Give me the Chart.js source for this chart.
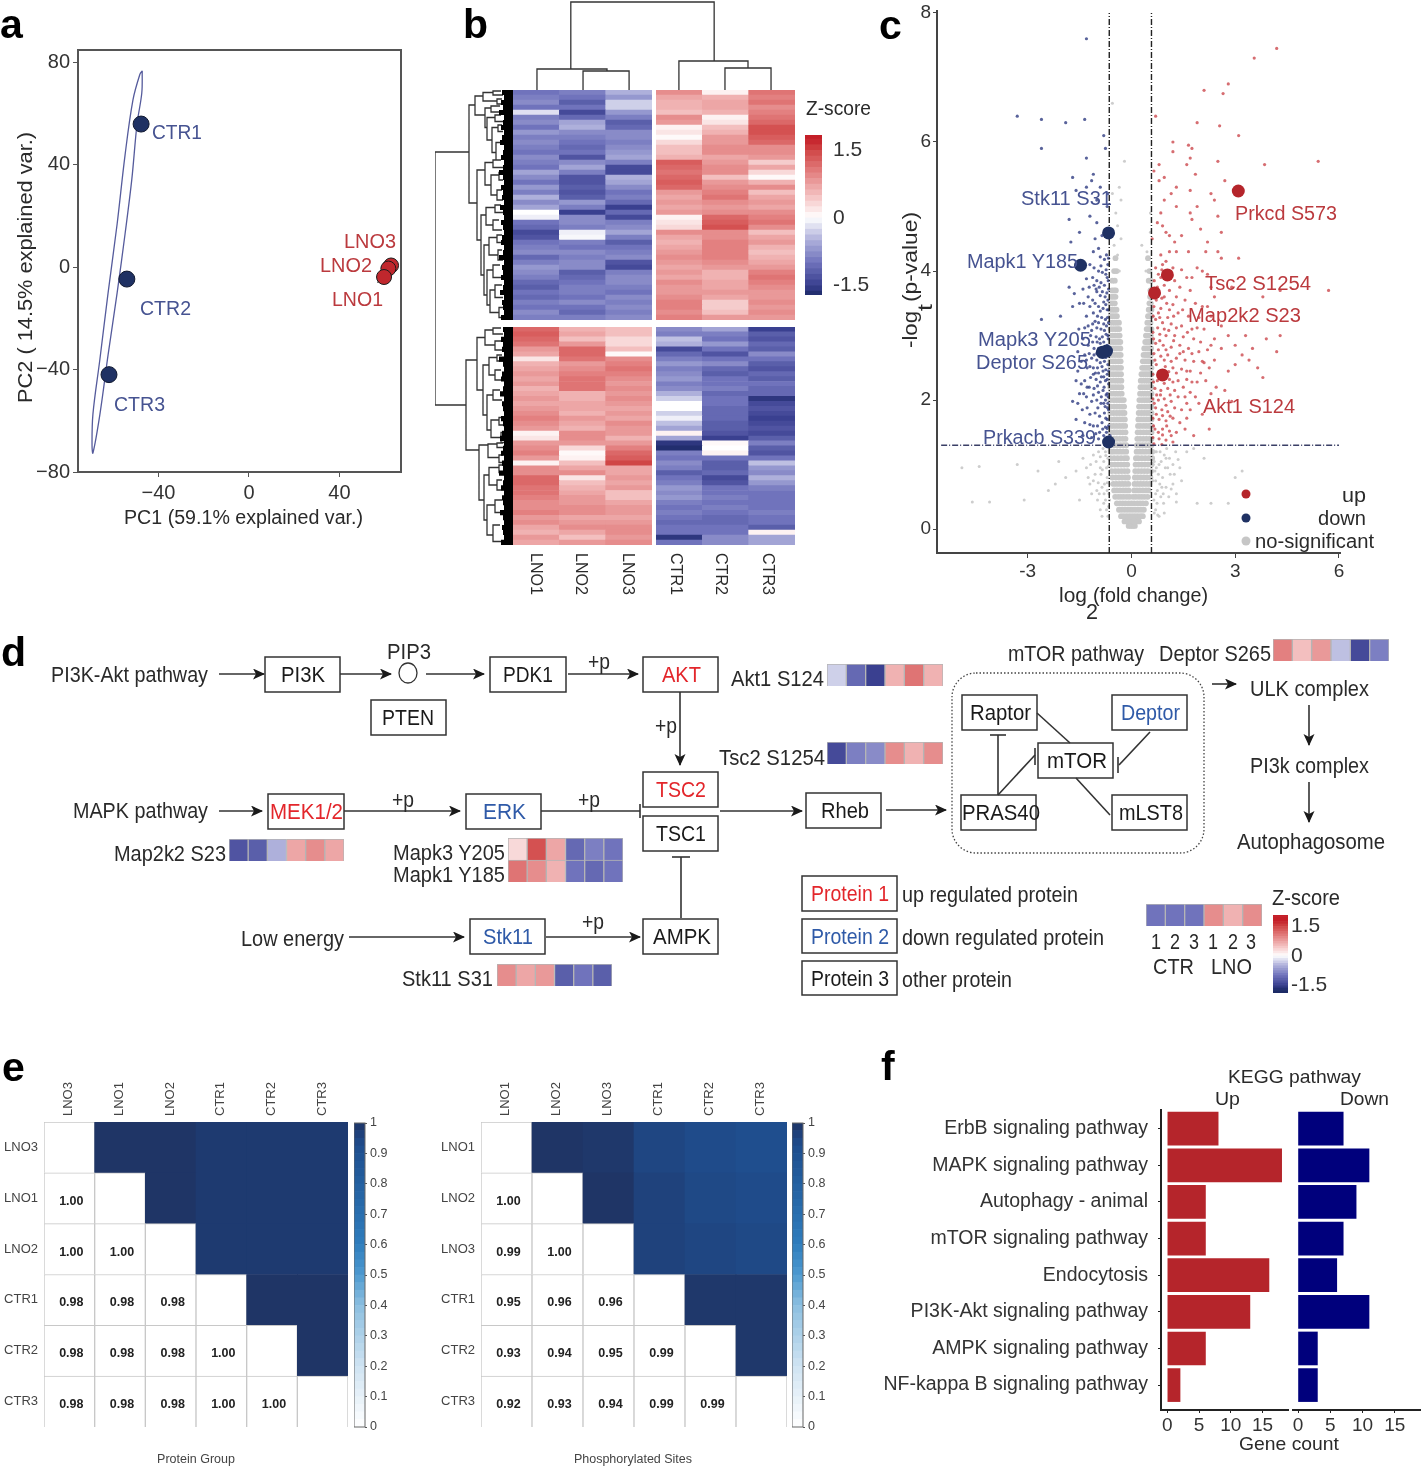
<!DOCTYPE html>
<html>
<head>
<meta charset="utf-8">
<title>Phosphoproteomics figure</title>
<script src="https://cdn.jsdelivr.net/npm/chart.js@4/dist/chart.umd.min.js"></script>
<style>
  html, body { margin: 0; background: #fff; }
  #page { position: relative; width: 1421px; height: 1482px; overflow: hidden; }
  #page canvas { position: absolute; }
  #overlay { position: absolute; left: 0; top: 0; }
  #overlay text { font-family: "Liberation Sans", Arial, sans-serif; }
</style>
</head>
<body>
<div id="page"></div>
<script>
// ---- panel a : PCA
const pcaCtr = [[-47.7, 55.8], [-54, -4.7], [-61.9, -42]];
const pcaLno = [[62.8, 0.6], [61.6, -0.6], [59.7, -3.9]];
const pcaCtrEllipse = [[-47.2, 76.6], [-47.4, 67.9], [-49.5, 55.8], [-51.8, 34.3], [-54.8, 12.9], [-58.3, -10.1], [-62.3, -34.3], [-65.9, -57.4], [-69, -72.6],
  [-69.4, -69.5], [-69, -57.4], [-65.9, -35.9], [-62.3, -10.1], [-58.3, 16.8], [-54.8, 43.7], [-51.3, 65.2], [-48.2, 75.3], [-47.2, 76.6]];
const pcaLnoEllipse = [[63.5, 2.4], [60, -1], [57.5, -5.5], [59, -5], [62.5, -1], [63.5, 2.4]];
const pcaXTicks = [-40, 0, 40];
const pcaYTicks = [-80, -40, 0, 40, 80];

// ---- panel b : heatmap, columns LNO1 LNO2 LNO3 CTR1 CTR2 CTR3
const heatColsLno = ['LNO1', 'LNO2', 'LNO3'];
const heatColsCtr = ['CTR1', 'CTR2', 'CTR3'];
const heatTop = [
  [-1, -.9, -.5, .9, .1, 1.1], [-.9, -1, -.7, .7, .6, 1], [-.8, -1.2, -.3, .6, .7, 1.1], [-1, -1, -.3, .6, .7, .9],
  [-.2, -1.4, -.7, .5, .6, 1], [-.9, -1.1, -.9, .9, .1, 1.1], [-.8, -.6, -1.2, .8, .2, 1.2], [-1, -.5, -1.1, .1, .5, 1.4],
  [-.7, -.8, -.8, .2, .6, 1.4], [-.9, -.9, -.8, .05, .8, 1.3], [-.8, -1, -.9, .3, .8, 1.2], [-.9, -1.1, -.8, .5, .9, .9],
  [-1, -1, -.7, .5, .9, .9], [-.8, -1.3, -.6, .6, .7, .8], [-.9, -.8, -.9, 1.3, .8, .4], [-1, -.6, -1.4, 1.2, .9, .7],
  [-.6, -.9, -1.4, 1.1, .9, .3], [-.8, -1.3, -.5, 1.2, .5, .05], [-1, -1.3, -.6, 1.3, .8, .6], [-.7, -1.2, -.8, 1.2, .9, .9],
  [-.9, -1.3, -1, .8, 1, .5], [-.5, -1.2, -.9, .7, 1.1, .7], [-.8, -.7, -1.1, .8, .9, .8], [-.6, -.9, -1.5, .7, .8, .7],
  [0, -1.5, -1.1, .8, .9, .9], [-.1, -.8, -1.4, .1, 1.2, 1], [-1, -.8, -.9, .2, 1.3, 1.1], [-1.1, -.9, -.8, .3, 1.4, .9],
  [-1.4, -.1, -.6, .9, .9, .5], [-1.3, -.05, -.9, .7, .9, .7], [-1, -.9, -1.2, .6, 1, .8], [-.9, -1, -1, .7, 1, .6],
  [-.8, -.8, -.9, .8, 1, .5], [-1.1, -.9, -.8, .9, 1, .6], [-.9, -.8, -1.3, .8, .9, .7], [-.7, -.8, -1.4, .7, .8, .8],
  [-.8, -1.2, -.9, .8, .6, 1], [-.9, -1.1, -.8, .7, .6, 1.1], [-1.1, -1, -.8, .9, .7, 1], [-1.2, -.9, -.9, .8, .7, .9],
  [-1, -.9, -1, .8, .8, .8], [-1.1, -1, -.8, .9, .7, .8], [-.9, -.8, -.9, 1, .4, .9], [-1, -1, -.8, 1, .4, .8],
  [-.8, -1.1, -.9, .9, .5, .9], [-.9, -.9, -.8, 1, .8, .8]
];
const heatBottom = [
  [1.2, .6, .5, -.8, -.6, -1.5], [1.3, .7, .5, -.9, -.9, -1.2], [1.2, .5, .3, -.4, -1, -1.3], [1.1, .8, .3, -.5, -.7, -1.1],
  [.8, 1.2, .5, -1.4, -1, -1.2], [.7, 1.2, .05, -1.1, -1.3, -.8], [.2, 1.1, .9, -.9, -1, -1], [.6, .8, 1, -.7, -.8, -1.2],
  [.7, .9, 1.1, -.9, -1.1, -1.3], [.8, 1, 1, -.8, -1.2, -1.1], [.7, 1.1, .9, -.7, -1, -1.2], [.8, 1.1, .8, -.9, -1, -1],
  [.6, 1.1, .9, -.8, -.9, -1.1], [.7, .6, .8, -.5, -1.1, -1.1], [.8, .6, .9, -.3, -1, -1.6], [.7, .7, .8, 0, -1, -1.4],
  [.8, .7, .7, 0, -1.1, -1.3], [.9, .6, .8, -.3, -1.1, -1.4], [1, .8, .7, -.1, -1.1, -1.5], [.9, .7, .9, -.4, -1.2, -1.4],
  [.8, .6, .8, -.6, -1.2, -1.3], [.1, .9, .8, .1, -1.3, -1.4], [.2, .9, .6, -.6, -1.5, -1.2], [.8, .8, .8, -1.6, .05, -.9],
  [.9, .3, 1, -1.7, 0, -1.2], [1, .05, 1.2, -.9, .1, -1.3], [.8, .1, 1.3, -1, -1, -1], [.1, .5, 1.5, -.8, -1.2, -.4],
  [.9, .7, .7, -.9, -1.2, -.7], [.9, .9, .7, -1.2, -1.1, -.8], [1.2, .2, .8, -1, -1.4, -.5], [1.2, .5, .7, -.9, -1.3, -.7],
  [1.1, .6, .8, -.7, -1, -.9], [1.1, .7, .5, -.8, -1, -1], [1, .8, .5, -.7, -.9, -1], [.9, .8, .7, -.9, -1, -1],
  [.9, .9, .8, -1, -.9, -1], [1, .9, .8, -.9, -1, -.9], [.8, .7, .7, -1, -1.1, -1], [.9, .8, .8, -1.1, -1.1, -1],
  [.7, .9, .9, -1, -1, -1.2], [.6, .7, .9, -1, -1, .1], [.8, .5, .8, -1.6, -.8, -.6], [.7, .8, .9, -1, -.8, -.6]
];
const zBands = [-2, -1.875, -1.75, -1.625, -1.5, -1.375, -1.25, -1.125, -1, -.875, -.75, -.625, -.5, -.375, -.25, -.125, 0,
  .125, .25, .375, .5, .625, .75, .875, 1, 1.125, 1.25, 1.375, 1.5, 1.625, 1.75, 1.875, 2, 2.125];
const zTicks = [-1.5, 0, 1.5];

// dendrogram brackets: [height, pos1, pos2, child height 1, child height 2]
const treeTop = [[88, 1.23, 4.28, 21, 29], [21, .51, 2, 0, 19], [19, 1.49, 2.47, 0, 0], [29, 3.53, 5, 0, 22], [22, 4.51, 5.49, 0, 0]];
const treeLeft = [
  [78, 12.4, 63, 44, 47],
  [44, 3, 22.6, 38, 36], [38, 1.2, 5, 30, 28], [30, .5, 2.2, 20, 16], [20, .2, 1, 12, 10], [16, 1.8, 2.8, 11, 10], [28, 3.6, 7.5, 22, 26],
  [22, 3.2, 4.4, 13, 11], [26, 5.5, 10, 18, 21], [18, 5, 6.3, 12, 10], [21, 7.5, 12.5, 15, 17], [15, 7, 8.3, 11, 10], [17, 10.5, 14, 13, 12],
  [36, 16, 30, 28, 32], [28, 14.5, 19, 20, 22], [20, 14, 15.5, 12, 10], [22, 17, 21, 14, 16], [14, 16.5, 18, 11, 10], [16, 20, 22, 11, 10],
  [32, 25, 37, 27, 29], [27, 23.5, 27, 18, 20], [18, 23, 24.5, 12, 10], [20, 26, 28, 14, 11], [29, 31, 41, 24, 26], [24, 29.5, 33, 16, 15],
  [16, 29, 30.5, 11, 10], [15, 32, 34, 11, 10], [26, 36, 43, 20, 23], [20, 35, 37.5, 13, 12], [23, 40, 44.5, 18, 14], [18, 39, 41.5, 11, 10], [14, 43.5, 45.5, 10, 9],
  [47, 54, 72, 36, 34], [36, 49.5, 60, 28, 30], [28, 48, 51, 20, 18], [20, 47.6, 48.8, 12, 10], [18, 50.2, 52, 11, 10], [30, 55, 65, 24, 26],
  [24, 53.5, 57, 16, 18], [16, 53, 54.2, 11, 10], [18, 56, 58, 12, 10], [26, 61, 68, 20, 22], [20, 60, 62, 13, 11], [22, 66, 69.5, 14, 12],
  [14, 65.5, 67, 10, 9], [12, 68.5, 70.5, 10, 9], [34, 71, 82, 25, 29], [25, 70.8, 73.5, 16, 14], [16, 70.6, 71.5, 10, 9], [14, 73, 74.5, 10, 9],
  [29, 77, 86, 24, 26], [24, 75.5, 79, 14, 16], [14, 75, 76.5, 10, 9], [16, 78, 80, 11, 9], [26, 83, 89, 18, 20], [18, 82, 84.5, 11, 10], [20, 87, 90.3, 13, 12]
];
const leafDepth = [11, 9, 12, 10, 14, 9, 10, 12, 9, 11, 13, 9, 10, 12, 9, 10, 14, 10, 9, 12, 10, 11, 9, 13, 10, 9, 12, 10, 9, 11, 12, 9, 10, 14, 9, 11, 10, 12, 9, 10, 13, 9, 11, 10, 9, 12,
  10, 9, 12, 10, 11, 9, 14, 10, 9, 11, 12, 9, 10, 13, 9, 11, 10, 9, 12, 10, 9, 11, 13, 9, 10, 12, 9, 11, 10, 14, 9, 10, 12, 9, 11, 10, 9, 13, 10, 9, 11, 10, 9, 12];

// ---- panel c : volcano
const volcanoXTicks = [-3, 0, 3, 6];
const volcanoYTicks = [0, 2, 4, 6, 8];
const cutLogFc = [-0.64, 0.58];
const cutP = 1.3;
const hitsUp = [[3.09, 5.24], [1.04, 3.94], [.67, 3.66], [.9, 2.39]];
const hitsDown = [[-.66, 4.59], [-1.47, 4.09], [-.72, 2.76], [-.84, 2.74], [-.66, 1.35]];
// gray core of the volcano, one row per -log p level: [y, [x, x, ...]]
const grayLevels = [
  [.05, [-.08, -.02, .04, .1]], [.12, [-.2, -.12, -.05, .02, .08, .15, .22]], [.2, [-.3, -.22, -.14, -.06, .02, .1, .18, .26, .33]],
  [.3, [-.36, -.28, -.2, -.12, -.04, .04, .12, .2, .28, .36]], [.4, [-.42, -.33, -.25, -.17, -.08, 0, .08, .17, .25, .33, .42]],
  [.5, [-.47, -.38, -.3, -.22, -.13, -.05, .05, .13, .22, .3, .38, .47]], [.6, [-.5, -.42, -.33, -.24, -.16, -.08, .08, .16, .24, .33, .42, .5]],
  [.7, [-.52, -.43, -.34, -.26, -.18, -.09, .09, .18, .26, .34, .43, .52]], [.8, [-.55, -.45, -.36, -.27, -.18, -.1, .1, .18, .27, .36, .45, .55]],
  [.9, [-.57, -.47, -.38, -.29, -.2, -.11, .11, .2, .29, .38, .47, .57]], [1, [-.58, -.48, -.39, -.3, -.21, -.12, .12, .21, .3, .39, .48, .58]],
  [1.1, [-.6, -.5, -.4, -.3, -.2, -.13, .13, .2, .3, .4, .5, .6]], [1.2, [-.6, -.52, -.42, -.33, -.24, -.15, .15, .24, .33, .42, .52, .6]],
  [1.3, [-.6, -.5, -.41, -.32, -.23, -.15, .16, .23, .32, .41, .5, .58]], [1.4, [-.6, -.52, -.43, -.34, -.25, -.17, .17, .25, .34, .43, .52, .58]],
  [1.5, [-.6, -.5, -.42, -.33, -.25, -.17, .18, .26, .35, .44, .52, .58]], [1.6, [-.6, -.52, -.43, -.34, -.26, -.18, .19, .27, .36, .44, .52, .58]],
  [1.7, [-.6, -.5, -.42, -.34, -.26, -.19, .2, .28, .36, .44, .52, .58]], [1.8, [-.61, -.52, -.43, -.35, -.27, -.2, .21, .29, .37, .45, .52, .58]],
  [1.9, [-.6, -.5, -.42, -.34, -.27, -.21, .22, .3, .38, .45, .52, .58]], [2, [-.61, -.52, -.44, -.36, -.29, -.22, .23, .31, .38, .45, .52, .58]],
  [2.1, [-.6, -.51, -.43, -.35, -.28, .25, .32, .39, .46, .53, .58]], [2.2, [-.61, -.53, -.45, -.37, -.29, .26, .33, .4, .47, .53, .58]],
  [2.3, [-.6, -.51, -.43, -.36, -.29, .27, .34, .41, .47, .53, .58]], [2.4, [-.61, -.53, -.45, -.38, -.3, .29, .36, .42, .48, .54, .58]],
  [2.5, [-.6, -.52, -.44, -.37, -.3, .31, .37, .43, .49, .54, .58]], [2.6, [-.61, -.53, -.46, -.38, -.31, .33, .39, .45, .5, .55, .58]],
  [2.7, [-.6, -.52, -.44, -.37, -.31, .35, .41, .46, .51, .56]], [2.8, [-.61, -.53, -.46, -.39, -.32, .37, .43, .48, .53, .57]],
  [2.9, [-.6, -.52, -.45, -.38, -.32, .4, .45, .5, .55, .58]], [3, [-.61, -.54, -.47, -.4, -.34, .42, .47, .52, .56]],
  [3.1, [-.6, -.53, -.46, -.4, -.35, .44, .49, .54, .58]], [3.2, [-.61, -.54, -.48, -.42, -.36, .46, .51, .55]],
  [3.3, [-.6, -.54, -.48, -.42, .48, .53, .57]], [3.4, [-.61, -.55, -.49, -.43, .5, .55, .58]], [3.5, [-.6, -.54, -.48, .52, .56]],
  [3.6, [-.58, -.52, -.46, .54, .58]], [3.7, [-.56, -.5, -.45, .55]], [3.85, [-.55, -.48, .5, .56]], [4, [-.5, -.43, .52]], [4.2, [-.46, .48]]
];
const graySparse = [[-4.9, .95], [-4.4, .97], [-3.3, 1], [-2.7, .9], [-2.1, 1.05], [-1.9, .8], [-1.6, .9], [-1.4, 1.1], [-1.2, .7], [-1, .6], [-1.1, 1.15], [-.9, .95], [-.8, .4], [-.75, 1.2],
  [-.7, .8], [-.65, .55], [-4.6, .42], [-4.1, .42], [-3.1, .45], [-2.4, .6], [-2.2, .7], [-1.5, .45], [-.9, .3], [-1.3, .95], [-.85, .65], [-.72, .3], [-.95, 1.2], [-1.05, .85], [-.8, 1.05],
  [.7, .3], [.75, .6], [.8, 1], [.9, .8], [.95, 1.15], [1.05, .95], [1.2, .7], [1.3, .55], [1.45, .75], [1.6, 1.2], [1.8, 1.25], [1.3, .42], [1.9, .4], [2.3, .4], [2.8, .4], [3, .8], [3.2, .9], [2.1, 1.1],
  [.68, .9], [.72, 1.2], [.85, .5], [1, .65], [.7, .75], [1.1, 1.1],
  [-.5, 4.4], [-.4, 4.25], [-.35, 4], [.55, 4.6], [.45, 4.3], [.42, 4], [.55, 4.9], [-.45, 4.9], [-.3, 5.1], [-.2, 5.7], [-.55, 6.6], [-.35, 5.3], [-.55, 5.2], [-.4, 4.7], [.3, 4.4], [-.3, 4.5],
  [-.68, 1.1], [-.72, .95], [-.78, .7], [-.82, 1.25], [-.88, .85], [-.93, .55], [-1.02, 1.05], [-1.1, .75], [-1.18, 1], [-.7, .6], [-.75, .45], [-.85, .2], [-.66, .35], [-.98, .45],
  [.66, 1.05], [.7, .55], [.74, .4], [.78, .85], [.83, 1.2], [.88, .65], [.93, .4], [.98, .95], [1.02, 1.25], [1.12, .85], [1.2, 1], [1.28, 1.2], [.66, .25], [.8, .2], [.95, .25], [1.4, .95],
  [-.64, 1.22], [-.66, .98], [-.7, .72], [-.74, 1.14], [-.79, .55], [-.84, .92], [-.9, 1.12], [-.96, .72], [-1.15, .55], [-1.25, .8], [-.62, .7], [-.63, .45], [-.68, .2],
  [.62, .75], [.63, 1], [.65, .45], [.68, 1.2], [.72, .95], [.76, .22], [.82, .7], [.86, 1.05], [.92, .55], [1.0, 1.1], [1.08, .5], [1.15, .62], [1.24, .85], [1.35, 1.08]];
const downPoints = [[-3.3, 6.4], [-2.6, 6.35], [-1.9, 6.3], [-1.35, 6.35], [-1.3, 7.6], [-2.6, 5.9], [-1.3, 5.75], [-.8, 6.1], [-.75, 5.9], [-1.7, 5.45], [-1.1, 5.5], [-1.15, 5.4], [-1.3, 5.3], [-1.6, 5.25], [-.9, 5.3],
  [-1, 5.1], [-.68, 5.2], [-.7, 5], [-1.8, 4.8], [-1.2, 4.85], [-1.5, 4.6], [-1.75, 4.45], [-1, 4.75], [-1.05, 4.5], [-.85, 4.55], [-.95, 4.35], [-1.1, 4.3], [-.72, 4.25],
  [-.68, 1.4], [-.72, 1.5], [-.8, 1.45], [-.95, 1.4], [-1.1, 1.6], [-1.35, 1.65], [-.7, 1.7], [-.85, 1.65], [-.78, 1.8], [-.92, 1.75], [-1.05, 1.8], [-1.2, 1.78], [-1.42, 1.85], [-1.55, 1.95], [-1.7, 1.98], [-.68, 1.95],
  [-.75, 2], [-.88, 1.95], [-1, 2], [-1.15, 1.98], [-1.3, 2.05], [-1.5, 2.1], [-.7, 2.1], [-.82, 2.15], [-.95, 2.12], [-1.08, 2.18], [-1.22, 2.2], [-.66, 2.25], [-.75, 2.3], [-.9, 2.28], [-1.02, 2.32], [-1.18, 2.35], [-1.35, 2.3],
  [-.7, 2.4], [-.82, 2.45], [-.95, 2.42], [-1.1, 2.5], [-1.28, 2.5], [-.68, 2.55], [-.78, 2.6], [-.9, 2.58], [-1, 2.62], [-1.15, 2.65], [-1.35, 2.7], [-.66, 2.7], [-.85, 2.75], [-.95, 2.8], [-1.08, 2.8], [-1.25, 2.85],
  [-.7, 2.85], [-.8, 2.9], [-.92, 2.95], [-1.02, 2.98], [-1.18, 3], [-1.4, 2.95], [-.68, 3], [-.78, 3.08], [-.88, 3.1], [-1, 3.12], [-1.12, 3.18], [-.66, 3.2], [-.75, 3.25], [-.86, 3.28], [-.98, 3.3], [-1.1, 3.35], [-1.3, 3.3],
  [-.7, 3.4], [-.82, 3.42], [-.95, 3.45], [-1.05, 3.5], [-2.6, 3.25], [-2.05, 3.3], [-1.7, 3.45], [-1.5, 3.5], [-.68, 3.55], [-.76, 3.6], [-.9, 3.62], [-1, 3.68], [-1.25, 3.6], [-1.65, 3.65], [-1.8, 3.75], [-.66, 3.72], [-.78, 3.78],
  [-.88, 3.82], [-1, 3.85], [-1.12, 3.9], [-1.3, 3.88], [-.7, 3.9], [-.84, 3.98], [-.95, 4], [-1.08, 4.05], [-1.2, 4.1], [-.68, 4.1], [-.78, 4.18], [-.9, 4.22], [-1.02, 3.72], [-.66, 1.6], [-.66, 1.85], [-.67, 2.05], [-.66, 2.45],
  [-.67, 2.95], [-.66, 3.4], [-.67, 3.85], [-.66, 4.2], [-.83, 1.55], [-.98, 1.6], [-1.15, 1.42], [-1.28, 1.88], [-.76, 1.9], [-.87, 2.05], [-.98, 2.22], [-.8, 2.36], [-1.1, 2.4], [-.85, 2.52], [-1, 2.72], [-.74, 2.66], [-.9, 2.88],
  [-1.12, 2.9], [-.72, 3.15], [-.95, 3.2], [-1.2, 3.45], [-.8, 3.52], [-1.4, 3.72], [-.75, 1.58], [-1.55, 2.45], [-1.45, 2.6], [-1.4, 1.45], [-1.6, 1.7], [-.72, 1.3],
  [-.7, 1.56], [-.74, 1.72], [-.69, 1.88], [-.8, 1.95], [-.73, 2.08], [-.79, 2.2], [-.7, 2.32], [-.87, 2.36], [-.74, 2.47], [-.83, 2.66], [-.7, 2.76], [-.76, 2.82], [-.84, 2.98], [-.73, 3.02], [-.8, 3.18], [-.69, 3.28], [-.9, 3.38],
  [-.74, 3.48], [-.84, 3.68], [-.71, 3.66], [-.93, 3.75], [-.74, 3.95], [-.88, 4.08], [-.73, 4.02], [-.92, 1.5], [-1.03, 1.48], [-1.2, 1.62], [-.97, 1.88], [-1.1, 2.08], [-1.28, 2.2], [-1.04, 2.42], [-1.2, 2.52], [-.98, 2.5],
  [-1.08, 2.7], [-1.22, 2.72], [-1.3, 2.62], [-.99, 2.9], [-1.15, 3.08], [-1.25, 3.15], [-1.05, 3.22], [-1.35, 3.12], [-1.12, 3.55], [-1.38, 3.5], [-1.08, 3.78], [-1.22, 3.75], [-.62, 1.45], [-1.38, 2.1], [-1.45, 2.25], [-1.6, 2.3], [-1.55, 2.75], [-1.52, 3.1]];
const upPoints = [[4.2, 7.45], [3.55, 7.3], [2.8, 6.9], [2.65, 6.75], [2.1, 6.8], [.7, 6.4], [1.9, 6.3], [2.55, 6.25], [3.1, 6.1], [1.2, 6], [1.65, 5.95], [1.75, 5.9], [1.2, 5.85], [1.7, 5.75], [.8, 5.65], [1.6, 5.65], [2.5, 5.7],
  [3.85, 5.65], [5.4, 5.7], [2.7, 5.4], [.65, 5.55], [.8, 5.4], [.95, 5.45], [1.85, 5.5], [1.7, 5.25], [1.3, 5.3], [1.15, 5.2], [.95, 5.1], [1.3, 5], [1.9, 5], [2.3, 5.2], [2.4, 5.1], [2.5, 4.85], [1.7, 4.9], [1.75, 4.8], [.85, 4.9],
  [.9, 4.7], [.75, 4.75], [2, 4.65], [2.6, 4.6], [.6, 4.5], [1, 4.6], [1.1, 4.55], [1.45, 4.55], [1.25, 4.45], [2.2, 4.45], [2.15, 4.3], [.85, 4.25], [1.1, 4.3], [1.3, 4.3], [1.65, 4.3], [2.5, 4.3], [2.6, 4.2], [3.1, 4.2], [.9, 4.1],
  [.7, 4.05], [1, 4.15], [1.9, 4.05], [2.05, 4], [2.2, 3.95], [1.6, 3.9], [1.75, 3.9], [2.3, 3.75], [2.9, 3.75], [4.3, 3.7], [5.7, 3.7], [3.8, 3.6], [2.4, 3.6], [.85, 3.9], [1.25, 3.85], [1.4, 3.75], [1.1, 3.7], [.75, 3.75], [.95, 3.6],
  [1.3, 3.6], [1.55, 3.55], [1.85, 3.5], [2.05, 3.45], [.65, 3.45], [.85, 3.42], [1.1, 3.4], [1.35, 3.35], [1.65, 3.3], [1.95, 3.28], [2.3, 3.3], [.7, 3.25], [.9, 3.2], [1.15, 3.18], [1.45, 3.15], [1.75, 3.1], [2.1, 3.1], [2.6, 3.15],
  [.62, 3.05], [.82, 3.02], [1, 3], [1.25, 3], [1.5, 2.98], [1.8, 2.95], [2, 2.9], [2.4, 2.95], [2.8, 3], [3.3, 3], [3.9, 2.95], [4.3, 3], [.7, 2.88], [.92, 2.85], [1.15, 2.82], [1.4, 2.85], [1.65, 2.8], [1.95, 2.75], [2.2, 2.78],
  [2.6, 2.8], [3, 2.85], [3.5, 2.8], [.65, 2.72], [.85, 2.68], [1.05, 2.7], [1.3, 2.65], [1.55, 2.62], [1.8, 2.6], [2.1, 2.58], [2.4, 2.62], [3.2, 2.7], [4.2, 2.75], [3.4, 2.62], [.72, 2.55], [.98, 2.52], [1.2, 2.5], [1.45, 2.48],
  [1.7, 2.45], [2, 2.42], [2.25, 2.5], [2.8, 2.45], [3, 2.55], [3.65, 2.5], [.62, 2.4], [.75, 2.3], [1.1, 2.32], [1.35, 2.3], [1.6, 2.32], [1.9, 2.28], [2.15, 2.3], [3.8, 2.35], [.68, 2.18], [.85, 2.15], [1.05, 2.18], [1.25, 2.15],
  [1.5, 2.2], [1.7, 2.12], [2.45, 2.2], [2.7, 2.15], [.62, 2.02], [.78, 2], [.95, 2.02], [1.15, 1.98], [1.35, 2.05], [1.6, 1.95], [1.95, 1.95], [2.9, 1.98], [.7, 1.88], [.88, 1.85], [1.05, 1.82], [1.25, 1.88], [1.45, 1.85], [.62, 1.72],
  [.8, 1.7], [1, 1.68], [1.2, 1.72], [1.4, 1.65], [2.05, 1.78], [.68, 1.55], [.9, 1.55], [1.1, 1.52], [1.3, 1.5], [.62, 1.42], [.8, 1.4], [1, 1.38], [1.2, 1.35], [1.8, 1.45], [2.25, 1.55], [.65, 1.32], [.88, 1.31],
  [.64, 1.6], [.72, 1.78], [.66, 1.95], [.73, 2.08], [.64, 2.28], [.8, 2.44], [.68, 2.62], [.78, 2.78], [.64, 2.95], [.76, 3.12], [.63, 3.3], [.78, 3.35], [.72, 3.55], [.88, 3.58], [.66, 3.85], [.78, 3.95], [.95, 3.78], [.9, 1.46],
  [.78, 1.5], [1.02, 1.6], [.9, 1.76], [1.12, 1.75], [1, 1.92], [.84, 2.08], [1.12, 2.08], [.95, 2.26], [1.2, 2.28], [.88, 2.42], [1.08, 2.44], [1.3, 2.42], [.95, 2.62], [1.15, 2.6], [1.4, 2.72], [1, 2.78], [.82, 2.92], [1.22, 2.92],
  [1.08, 3.08], [.95, 3.1], [1.3, 3.12], [.82, 3.28], [1.05, 3.28], [1.22, 3.3], [1.48, 3.4], [1.02, 3.5], [1.2, 3.48], [.88, 4.02], [1.15, 3.95], [1.2, 4.05], [1.45, 4.02], [1.55, 1.55], [1.6, 1.72], [1.7, 1.85], [1.55, 2.05],
  [1.85, 2.05], [1.6, 2.45], [1.75, 2.28], [2.3, 2.1], [2.05, 2.6], [1.5, 2.75], [1.75, 2.72], [2.3, 2.85], [1.62, 3.05], [1.9, 3.12], [2.2, 3.45], [1.7, 3.7], [1.15, 1.45]];

// ---- panel d : small z-score strips
const stripMap2k2 = [[-1.3, -1.2, -.5, .7, .9, .7]];
const stripMapk = [[.3, 1.4, .7, -1.1, -.9, -1], [1.1, .9, .6, -1, -1.1, -1]];
const stripStk11 = [[.9, .7, .8, -1.2, -1, -1.2]];
const stripAkt1 = [[-.3, -1.1, -1.5, .6, 1.1, .6]];
const stripTsc2 = [[-1.4, -.9, -.8, .9, .6, .9]];
const stripDeptor = [[1, .5, .8, -.4, -1.4, -.9]];
const stripKey = [[-1, -1, -1, .9, .6, .9]];

// ---- panel e : correlations (upper and lower triangle are the same values)
const corrColsProtein = ['LNO3', 'LNO1', 'LNO2', 'CTR1', 'CTR2', 'CTR3'];
const corrProtein = [
  [1, 1, 1, .98, .98, .98], [1, 1, 1, .98, .98, .98], [1, 1, 1, .98, .98, .98],
  [.98, .98, .98, 1, 1, 1], [.98, .98, .98, 1, 1, 1], [.98, .98, .98, 1, 1, 1]];
const corrColsPhospho = ['LNO1', 'LNO2', 'LNO3', 'CTR1', 'CTR2', 'CTR3'];
const corrPhospho = [
  [1, 1, .99, .95, .93, .92], [1, 1, 1, .96, .94, .93], [.99, 1, 1, .96, .95, .94],
  [.95, .96, .96, 1, .99, .99], [.93, .94, .95, .99, 1, .99], [.92, .93, .94, .99, .99, 1]];
const corrBands = [0, .025, .05, .075, .1, .125, .15, .175, .2, .225, .25, .275, .3, .325, .35, .375, .4, .425, .45, .475, .5, .525, .55, .575, .6, .625, .65, .675, .7, .725, .75, .775, .8, .825, .85, .875, .9, .925, .95, .975, 1];
const corrTicks = [0, .1, .2, .3, .4, .5, .6, .7, .8, .9, 1];

// ---- panel f : KEGG
const keggPathways = ['ErbB signaling pathway', 'MAPK signaling pathway', 'Autophagy - animal', 'mTOR signaling pathway', 'Endocytosis', 'PI3K-Akt signaling pathway', 'AMPK signaling pathway', 'NF-kappa B signaling pathway'];
const keggUp = [8, 18, 6, 6, 16, 13, 6, 2];
const keggDown = [7, 11, 9, 7, 6, 11, 3, 3];
const keggTicks = [0, 5, 10, 15];

const FONT = '"Liberation Sans", Arial, sans-serif';
const BLUE_TXT = '#465391', RED_TXT = '#bb3a3e';
const page = document.getElementById('page');
Chart.defaults.font.family = FONT;
Chart.defaults.color = '#333';

// colour ramps
function hex(c) { return [1, 3, 5].map(i => parseInt(c.substr(i, 2), 16)); }
function ramp(stops, v) {
  if (v <= stops[0][0]) return stops[0][1];
  for (let i = 1; i < stops.length; i++) {
    if (v <= stops[i][0]) {
      const t = (v - stops[i - 1][0]) / (stops[i][0] - stops[i - 1][0]);
      const a = hex(stops[i - 1][1]), b = hex(stops[i][1]);
      return `rgb(${a.map((q, k) => Math.round(q + (b[k] - q) * t)).join(',')})`;
    }
  }
  return stops[stops.length - 1][1];
}
const zStops = [[-1.75, '#1c2a66'], [-1.5, '#3a4090'], [-1, '#7073bc'], [-.5, '#aeb0db'], [0, '#ffffff'], [.5, '#f3bfbf'], [1, '#e38080'], [1.5, '#d04545'], [1.75, '#c41f28']];
const corrStops = [[0, '#ffffff'], [.2, '#cfe3f2'], [.4, '#8cbfe0'], [.5, '#4e9ad0'], [.6, '#2f7dbd'], [.8, '#2460a0'], [.92, '#1f4e8e'], [.95, '#1f4682'], [.98, '#1e3a70'], [1, '#1f3566']];
const zColor = v => ramp(zStops, v);
const corrColor = v => ramp(corrStops, v);

// canvas whose plot area lands exactly on x,y,w,h. m = [left, top, right, bottom] room for the axes
function slot(x, y, w, h, m) {
  const c = document.createElement('canvas');
  c.width = w + m[0] + m[2];
  c.height = h + m[1] + m[3];
  c.style.left = (x - m[0]) + 'px';
  c.style.top = (y - m[1]) + 'px';
  page.appendChild(c);
  return c;
}
function base(m) {
  return {
    responsive: false, animation: false, events: [],
    layout: { padding: { left: m[0], top: m[1], right: m[2], bottom: m[3] } },
    plugins: { legend: { display: false }, tooltip: { enabled: false }, title: { display: false } }
  };
}
// axes take no room in the layout, their labels sit in the canvas padding
const flatY = s => { s.width = 0; s.paddingTop = 0; s.paddingBottom = 0; s._computeLabelArea = () => null; };
const flatX = s => { s.height = 0; s.paddingLeft = 0; s.paddingRight = 0; s._computeLabelArea = () => null; };
const keep = list => s => { s.ticks = list.map(v => ({ value: v })); };
const minus = v => String(v).replace('-', '\u2212');
const frame = (color, w) => ({
  id: 'frame',
  afterDraw(ch) {
    const a = ch.chartArea, g = ch.ctx;
    g.save(); g.strokeStyle = color; g.lineWidth = w;
    g.strokeRect(a.left, a.top, a.right - a.left, a.bottom - a.top);
    g.restore();
  }
});
const toXY = p => ({ x: p[0], y: p[1] });

// ---- a
(() => {
  const m = [50, 10, 10, 40];
  new Chart(slot(78, 50, 323, 422, m), {
    type: 'scatter',
    data: { datasets: [
      { data: pcaCtr.map(toXY), pointRadius: 8, backgroundColor: '#1f3163', borderColor: '#10182f', borderWidth: 1 },
      { data: pcaLno.map(toXY), pointRadius: 7.5, backgroundColor: '#c0272d', borderColor: '#1a1a1a', borderWidth: 1 },
      { data: pcaLnoEllipse.map(toXY), showLine: true, pointRadius: 0, borderColor: '#111', borderWidth: 2 },
      { data: pcaCtrEllipse.map(toXY), showLine: true, pointRadius: 0, borderColor: '#555b9c', borderWidth: 1.3, tension: .35 }
    ] },
    options: Object.assign(base(m), { scales: {
      x: { min: -75.6, max: 67.2, afterFit: flatX, afterBuildTicks: keep(pcaXTicks), grid: { drawOnChartArea: false, tickLength: 5, color: '#555' }, border: { color: '#555', width: 2 },
        ticks: { font: { size: 20 }, padding: 4, maxRotation: 0, callback: minus } },
      y: { min: -80, max: 84.7, afterFit: flatY, afterBuildTicks: keep(pcaYTicks), grid: { drawOnChartArea: false, tickLength: 5, color: '#555' }, border: { color: '#555', width: 2 },
        ticks: { font: { size: 20 }, padding: 3, callback: minus } }
    } }),
    plugins: [frame('#555', 2)]
  });
})();

// stacked bars used as a grid of cells
function cellSets(rows, color, extra) {
  return rows.slice().reverse().map(r => Object.assign({
    data: r.map(() => 1), backgroundColor: r.map(color), barPercentage: 1, categoryPercentage: 1, borderWidth: 0
  }, extra || {}));
}
function heat(x, y, w, h, cols, rows, extra) {
  const m = [0, 0, 0, 0];
  new Chart(slot(x, y, w, h, m), {
    type: 'bar',
    data: { labels: cols, datasets: cellSets(rows, zColor, extra) },
    options: Object.assign(base(m), { scales: {
      x: { display: false, stacked: true },
      y: { display: false, stacked: true, min: 0, max: rows.length }
    } })
  });
}
const pick = (rows, a, b) => rows.map(r => r.slice(a, b));

// ---- b
heat(513, 90, 139, 230, heatColsLno, pick(heatTop, 0, 3));
heat(656, 90, 139, 230, heatColsCtr, pick(heatTop, 3, 6));
heat(513, 327, 139, 218, heatColsLno, pick(heatBottom, 0, 3));
heat(656, 327, 139, 218, heatColsCtr, pick(heatBottom, 3, 6));

function bracketSegs(list, vertical) {
  const pts = [];
  list.forEach(([hgt, a, b, ha, hb]) => {
    const P = vertical ? (p, q) => ({ x: p, y: q }) : (p, q) => ({ x: q, y: p });
    pts.push(P(a, ha), P(a, hgt), P(b, hgt), P(b, hb), { x: null, y: null });
  });
  return pts;
}
function treeChart(x, y, w, h, sets, xs, ys) {
  const m = [0, 0, 0, 0];
  new Chart(slot(x, y, w, h, m), {
    type: 'scatter',
    data: { datasets: sets.map(s => Object.assign({ showLine: true, pointRadius: 0, spanGaps: false, borderColor: '#333', borderWidth: 1.3 }, s)) },
    options: Object.assign(base(m), { scales: { x: Object.assign({ display: false }, xs), y: Object.assign({ display: false }, ys) } })
  });
}
treeChart(513, 0, 282, 90, [{ data: bracketSegs(treeTop, true) }], { min: 0, max: 6 }, { min: 0, max: 90 });
const leafSegs = [];
leafDepth.forEach((d, i) => {
  const row = i < 46 ? i + .5 : 47.4 + (i - 46 + .5) * .99;
  leafSegs.push({ x: d, y: row }, { x: 0, y: row }, { x: null, y: null });
});
treeChart(435, 90, 78, 455, [
  { data: leafSegs, borderColor: '#000', borderWidth: 5.2 },
  { data: bracketSegs(treeLeft, false) }
], { min: 0, max: 78, reverse: true }, { min: 0, max: 91, reverse: true });

// z-score colour bars
function zBar(x, y, w, h, lo, hi, font, pad) {
  const m = [0, 12, 50, 12];
  const sets = zBands.slice(0, -1).map((v, i) => ({ data: [[v, zBands[i + 1]]], backgroundColor: zColor(v + .06), grouped: false, barPercentage: 1, categoryPercentage: 1 }));
  new Chart(slot(x, y, w, h, m), {
    type: 'bar',
    data: { labels: ['z'], datasets: sets },
    options: Object.assign(base(m), { scales: {
      x: { display: false },
      y: { position: 'right', min: lo, max: hi, afterFit: flatY, afterBuildTicks: keep(zTicks), grid: { display: false, drawTicks: false }, border: { display: false },
        ticks: { font: { size: font }, padding: pad, callback: v => String(v) } }
    } })
  });
}
zBar(805, 135, 17, 160, -1.71, 1.84, 21, 11);
zBar(1273, 915, 15, 78, -1.88, 2.08, 21, 3);

// ---- c
(() => {
  const m = [40, 12, 20, 40];
  const grayCore = [];
  grayLevels.forEach(([y, xs]) => xs.forEach(x => grayCore.push({ x, y })));
  const top = 8.03, bottom = -.37;
  const dash = [6, 2, 1, 2];
  new Chart(slot(937, 11, 403, 542, m), {
    type: 'scatter',
    data: { datasets: [
      { data: hitsUp.map(toXY), pointRadius: 6.5, backgroundColor: '#b5252b', borderWidth: 0 },
      { data: hitsDown.map(toXY), pointRadius: 6.5, backgroundColor: '#1f3163', borderWidth: 0 },
      { data: [{ x: cutLogFc[0], y: bottom }, { x: cutLogFc[0], y: 8 }], showLine: true, pointRadius: 0, borderColor: '#222', borderWidth: 1.4, borderDash: dash },
      { data: [{ x: cutLogFc[1], y: bottom }, { x: cutLogFc[1], y: 8 }], showLine: true, pointRadius: 0, borderColor: '#222', borderWidth: 1.4, borderDash: dash },
      { data: [{ x: -5.5, y: cutP }, { x: 6, y: cutP }], showLine: true, pointRadius: 0, borderColor: '#3a3f66', borderWidth: 1.3, borderDash: dash },
      { data: downPoints.map(toXY), pointRadius: 1.6, backgroundColor: 'rgba(48,60,130,.8)', borderWidth: 0 },
      { data: upPoints.map(toXY), pointRadius: 1.6, backgroundColor: 'rgba(200,60,65,.75)', borderWidth: 0 },
      { data: graySparse.map(toXY), pointRadius: 1.5, backgroundColor: '#cdcdcd', borderWidth: 0 },
      { data: grayCore, pointRadius: 2.9, backgroundColor: '#c8c8c8', borderWidth: 0 }
    ] },
    options: Object.assign(base(m), { scales: {
      x: { min: -5.62, max: 6.03, afterFit: flatX, afterBuildTicks: keep(volcanoXTicks), grid: { drawOnChartArea: false, tickLength: 5, color: '#444' }, border: { color: '#444', width: 2 },
        ticks: { font: { size: 19 }, padding: 2, maxRotation: 0, callback: String } },
      y: { min: bottom, max: top, afterFit: flatY, afterBuildTicks: keep(volcanoYTicks), grid: { drawOnChartArea: false, tickLength: 4, color: '#444' }, border: { color: '#444', width: 2 },
        ticks: { font: { size: 19 }, padding: 2, callback: String } }
    } })
  });
})();

// ---- d strips
const stripStyle = { borderWidth: 1, borderColor: '#b5b5b5' };
const stripCols = ['1', '2', '3', '4', '5', '6'];
heat(229, 839, 115, 22, stripCols, stripMap2k2, stripStyle);
heat(508, 838, 115, 44, stripCols, stripMapk, stripStyle);
heat(497, 964, 115, 22, stripCols, stripStk11, stripStyle);
heat(827, 664, 116, 22, stripCols, stripAkt1, stripStyle);
heat(827, 742, 116, 22, stripCols, stripTsc2, stripStyle);
heat(1273, 639, 116, 22, stripCols, stripDeptor, stripStyle);
heat(1146, 904, 116, 22, stripCols, stripKey, stripStyle);

// ---- e
function corrChart(x, w, cols, matrix) {
  const m = [45, 50, 0, 0];
  const color = (r, c) => (c <= r ? '#ffffff' : corrColor(matrix[r][c]));
  const sets = matrix.map((row, r) => ({
    data: row.map(() => 1),
    backgroundColor: row.map((v, c) => color(r, c)),
    borderColor: row.map((v, c) => (c <= r ? '#c8c8c8' : color(r, c))),
    borderWidth: row.map((v, c) => (c <= r ? 1 : 0)), barPercentage: 1, categoryPercentage: 1
  })).reverse();
  const rowTicks = matrix.map((row, i) => matrix.length - i - .5);
  new Chart(slot(x, 1122, w, 305, m), {
    type: 'bar',
    data: { labels: cols, datasets: sets },
    options: Object.assign(base(m), { scales: {
      x: { position: 'top', stacked: true, afterFit: flatX, grid: { display: false, drawTicks: false }, border: { display: false },
        ticks: { font: { size: 13 }, color: '#444', padding: 6, labelOffset: 15, minRotation: 90, maxRotation: 90, autoSkip: false } },
      y: { stacked: true, min: 0, max: matrix.length, afterFit: flatY, afterBuildTicks: keep(rowTicks), grid: { display: false, drawTicks: false }, border: { display: false },
        ticks: { font: { size: 13 }, color: '#444', padding: 6, autoSkip: false, callback: v => cols[Math.round(matrix.length - v - .5)] } }
    } }),
    plugins: [{
      id: 'cellText',
      afterDatasetsDraw(ch) {
        const g = ch.ctx;
        g.save();
        g.font = 'bold 12.5px ' + FONT; g.textAlign = 'center'; g.textBaseline = 'middle'; g.fillStyle = '#222';
        matrix.forEach((row, r) => row.forEach((v, c) => {
          if (c >= r) return;
          const bar = ch.getDatasetMeta(matrix.length - 1 - r).data[c];
          g.fillText(v.toFixed(2), bar.x + 2, bar.y + (bar.base - bar.y) / 2 + 3);
        }));
        g.restore();
      }
    }]
  });
}
corrChart(44, 304, corrColsProtein, corrProtein);
corrChart(481, 306, corrColsPhospho, corrPhospho);

function corrBar(x) {
  const m = [0, 8, 40, 8];
  const sets = corrBands.slice(0, -1).map((v, i) => ({ data: [[v, corrBands[i + 1]]], backgroundColor: corrColor(v + .0125), grouped: false, barPercentage: 1, categoryPercentage: 1 }));
  new Chart(slot(x, 1123, 11, 304, m), {
    type: 'bar',
    data: { labels: ['r'], datasets: sets },
    options: Object.assign(base(m), { scales: {
      x: { display: false },
      y: { position: 'right', min: 0, max: 1, afterFit: flatY, afterBuildTicks: keep(corrTicks), grid: { drawOnChartArea: false, tickLength: 2, color: '#555' }, border: { display: false },
        ticks: { font: { size: 12.5 }, color: '#444', padding: 3, callback: v => String(v) } }
    } }),
    plugins: [frame('#666', 1)]
  });
}
corrBar(354);
corrBar(792);

// ---- f
function keggChart(x, w, values, color, xmin, xmax, withLabels) {
  const m = withLabels ? [290, 4, 2, 30] : [2, 4, 1, 30];
  new Chart(slot(x, 1110, w, 300, m), {
    type: 'bar',
    data: { datasets: [{ data: values.map((v, i) => ({ x: v, y: i })), backgroundColor: color, barThickness: 33, borderWidth: 0 }] },
    options: Object.assign(base(m), { indexAxis: 'y', scales: {
      x: { type: 'linear', min: xmin, max: xmax, afterFit: flatX, afterBuildTicks: keep(keggTicks), grid: { drawOnChartArea: false, tickLength: 3, color: '#222' }, border: { color: '#222', width: 2 },
        ticks: { font: { size: 19 }, padding: 1, maxRotation: 0, callback: String } },
      y: { type: 'linear', reverse: true, offset: false, min: -.51, max: 7.68, afterFit: flatY, afterBuildTicks: keep(keggPathways.map((p, i) => i)),
        display: withLabels ? true : false, grid: { offset: false, drawOnChartArea: false, tickLength: 3, color: '#222' }, border: { color: '#222', width: 2 },
        ticks: { font: { size: 19.5 }, padding: 10, autoSkip: false, callback: v => keggPathways[v] } }
    } })
  });
}
keggChart(1161, 127, keggUp, '#b5252b', -1, 19, true);
keggChart(1293, 127, keggDown, '#00007c', -.78, 18.9, false);

// ---- texts and pathway drawing on top
const NS = 'http://www.w3.org/2000/svg';
const svg = document.createElementNS(NS, 'svg');
svg.setAttribute('id', 'overlay');
svg.setAttribute('width', 1421);
svg.setAttribute('height', 1482);
page.appendChild(svg);
function el(tag, attrs, parent) {
  const e = document.createElementNS(NS, tag);
  Object.keys(attrs).forEach(k => e.setAttribute(k, attrs[k]));
  (parent || svg).appendChild(e);
  return e;
}
// x1..x2 is the width the text takes in the figure
function T(str, x1, y, x2, o) {
  o = o || {};
  const a = { x: x1, y: y, fill: o.color || '#2a2a2a', 'font-size': o.size || 20, 'dominant-baseline': 'central' };
  if (o.weight) a['font-weight'] = o.weight;
  if (x2) { a.textLength = x2 - x1; a.lengthAdjust = 'spacingAndGlyphs'; }
  if (o.anchor) a['text-anchor'] = o.anchor;
  el('text', a).textContent = str;
}
function Rot(str, cx, y1, y2, deg, o) {
  o = o || {};
  const g = el('g', { transform: `translate(${cx},${y1}) rotate(${deg})` });
  const a = { x: 0, y: 0, fill: o.color || '#2a2a2a', 'font-size': o.size || 20, 'dominant-baseline': 'central', textLength: Math.abs(y2 - y1), lengthAdjust: 'spacingAndGlyphs' };
  el('text', a, g).textContent = str;
}

// panel letters
[['a', 0, 24], ['b', 463, 24], ['c', 879, 25], ['d', 1, 652], ['e', 2, 1067], ['f', 881, 1066]].forEach(l =>
  T(l[0], l[1], l[2], null, { size: 41, weight: 'bold', color: '#000' }));

// a
T('CTR1', 152, 132, 202, { color: BLUE_TXT }); T('CTR2', 140, 308, 191, { color: BLUE_TXT }); T('CTR3', 114, 404, 165, { color: BLUE_TXT });
T('LNO3', 344, 241, 396, { color: RED_TXT }); T('LNO2', 320, 265, 372, { color: RED_TXT }); T('LNO1', 332, 299, 383, { color: RED_TXT });
T('PC1 (59.1% explained var.)', 124, 517, 363);
Rot('PC2 ( 14.5% explained var.)', 25, 403, 132, -90);

// b
T('Z-score', 806, 108, 871);
[['LNO1', 536], ['LNO2', 581], ['LNO3', 628], ['CTR1', 676], ['CTR2', 721], ['CTR3', 768]].forEach(l => Rot(l[0], l[1], 553, 595, 90, { size: 16 }));

// c
T('Stk11 S31', 1021, 198, 1112, { color: BLUE_TXT }); T('Mapk1 Y185', 967, 261, 1078, { color: BLUE_TXT }); T('Mapk3 Y205', 978, 339, 1091, { color: BLUE_TXT });
T('Deptor S265', 976, 362, 1088, { color: BLUE_TXT }); T('Prkacb S339', 983, 437, 1096, { color: BLUE_TXT });
T('Prkcd S573', 1235, 213, 1337, { color: RED_TXT }); T('Tsc2 S1254', 1205, 283, 1311, { color: RED_TXT }); T('Map2k2 S23', 1188, 315, 1301, { color: RED_TXT }); T('Akt1 S124', 1203, 406, 1295, { color: RED_TXT });
Rot('-log', 910, 348, 311, -90); Rot('t', 925, 311, 304, -90); Rot('(p-value)', 910, 302, 212, -90);
T('log', 1059, 595, 1087); T('2', 1086, 611, 1098, { size: 22 }); T('(fold change)', 1093, 595, 1208);
el('circle', { cx: 1246, cy: 494, r: 4.5, fill: '#b5252b' }); el('circle', { cx: 1246, cy: 518, r: 4.5, fill: '#1f3163' }); el('circle', { cx: 1246, cy: 541, r: 4.5, fill: '#c6c6c6' });
T('up', 1342, 495, 1366); T('down', 1318, 518, 1366); T('no-significant', 1255, 541, 1374);

// d : arrow head
const D_SIZE = 22;
const defs = el('defs', {});
const mk = el('marker', { id: 'head', markerWidth: 13, markerHeight: 12, refX: 11, refY: 5.5, orient: 'auto', markerUnits: 'userSpaceOnUse' }, defs);
el('path', { d: 'M0,0 L12,5.5 L0,11 L3,5.5 z', fill: '#1a1a1a' }, mk);
function line(x1, y1, x2, y2, arrow) {
  const a = { x1, y1, x2, y2, stroke: '#333', 'stroke-width': 1.6 };
  if (arrow) a['marker-end'] = 'url(#head)';
  el('line', a);
}
const RED_P = '#e3262b', BLUE_P = '#2f5aa8';
function node(name, x1, y1, x2, y2, color, t1, t2) {
  el('rect', { x: x1, y: y1, width: x2 - x1, height: y2 - y1, fill: '#fff', stroke: '#333', 'stroke-width': 1.5 });
  T(name, t1, (y1 + y2) / 2, t2, { color: color || '#1a1a1a', size: D_SIZE });
}
[
  ['PI3K', 265, 657, 340, 692, null, 281, 325], ['PDK1', 490, 657, 566, 692, null, 503, 553], ['AKT', 643, 657, 718, 692, RED_P, 662, 701],
  ['PTEN', 371, 700, 446, 735, null, 382, 434], ['MEK1/2', 268, 794, 344, 829, RED_P, 270, 343], ['ERK', 466, 794, 541, 829, BLUE_P, 483, 526],
  ['TSC2', 643, 772, 718, 807, RED_P, 656, 706], ['TSC1', 643, 816, 718, 851, null, 656, 706], ['AMPK', 643, 919, 718, 954, null, 653, 711],
  ['Stk11', 470, 919, 545, 954, BLUE_P, 483, 533], ['Rheb', 806, 793, 881, 828, null, 821, 869], ['Raptor', 962, 695, 1037, 730, null, 970, 1031],
  ['Deptor', 1112, 695, 1187, 730, BLUE_P, 1121, 1180], ['mTOR', 1038, 743, 1113, 778, null, 1047, 1107], ['PRAS40', 961, 795, 1036, 830, null, 962, 1040],
  ['mLST8', 1112, 795, 1187, 830, null, 1119, 1183],
  ['Protein 1', 802, 876, 897, 911, RED_P, 811, 889], ['Protein 2', 802, 919, 897, 953, BLUE_P, 811, 889], ['Protein 3', 802, 961, 897, 995, null, 811, 889]
].forEach(n => node.apply(null, n));
el('rect', { x: 952, y: 673, width: 252, height: 180, rx: 24, ry: 24, fill: 'none', stroke: '#444', 'stroke-width': 1.3, 'stroke-dasharray': '1.5 2' });
el('ellipse', { cx: 408, cy: 673, rx: 9, ry: 10, fill: '#fff', stroke: '#333', 'stroke-width': 1.3 });
[[219, 674, 264, 674], [340, 674, 391, 674], [426, 674, 484, 674], [568, 674, 638, 674], [680, 692, 680, 765], [219, 811, 262, 811], [344, 811, 460, 811],
  [349, 937, 464, 937], [546, 937, 640, 937], [720, 811, 802, 811], [886, 810, 946, 810], [1212, 684, 1236, 684], [1309, 705, 1309, 745], [1309, 782, 1309, 822]]
  .forEach(a => line(a[0], a[1], a[2], a[3], true));
[[541, 811, 640, 811], [640, 804, 640, 818], [681, 918, 681, 857], [672, 857, 690, 857], [1037, 713, 1070, 743], [1150, 732, 1119, 765], [1118, 757, 1118, 773],
  [998, 795, 998, 735], [990, 735, 1006, 735], [998, 795, 1035, 755], [1035, 748, 1035, 765], [1076, 778, 1110, 815]]
  .forEach(a => line(a[0], a[1], a[2], a[3], false));
[
  ['PI3K-Akt pathway', 51, 674, 208], ['PIP3', 387, 651, 431], ['+p', 588, 661, 610], ['Akt1 S124', 731, 678, 824], ['+p', 655, 725, 677], ['mTOR pathway', 1008, 653, 1144],
  ['Deptor S265', 1159, 653, 1271], ['ULK complex', 1250, 688, 1369], ['PI3k complex', 1250, 765, 1369], ['Autophagosome', 1237, 841, 1385], ['Tsc2 S1254', 719, 757, 825],
  ['MAPK pathway', 73, 810, 208], ['+p', 392, 799, 414], ['+p', 578, 799, 600], ['Map2k2 S23', 114, 853, 226], ['Mapk3 Y205', 393, 852, 505], ['Mapk1 Y185', 393, 874, 505],
  ['Low energy', 241, 938, 344], ['+p', 582, 921, 604], ['Stk11 S31', 402, 978, 493], ['up regulated protein', 902, 894, 1078], ['down regulated protein', 902, 937, 1104],
  ['other protein', 902, 979, 1012], ['Z-score', 1272, 897, 1340], ['1', 1151, 941, 1161], ['2', 1170, 941, 1180], ['3', 1189, 941, 1199], ['1', 1208, 941, 1218], ['2', 1228, 941, 1238],
  ['3', 1246, 941, 1256], ['CTR', 1153, 966, 1194], ['LNO', 1211, 966, 1252]
].forEach(t => T(t[0], t[1], t[2], t[3], { size: D_SIZE }));

// e
T('Protein Group', 196, 1459, null, { size: 12.5, anchor: 'middle', color: '#444' });
T('Phosphorylated Sites', 633, 1459, null, { size: 12.5, anchor: 'middle', color: '#444' });

// f
T('KEGG pathway', 1228, 1076, 1361, { size: 19 }); T('Up', 1215, 1098, 1240, { size: 19 }); T('Down', 1340, 1098, 1389, { size: 19 }); T('Gene count', 1239, 1443, 1339, { size: 19 });
</script>
</body>
</html>
